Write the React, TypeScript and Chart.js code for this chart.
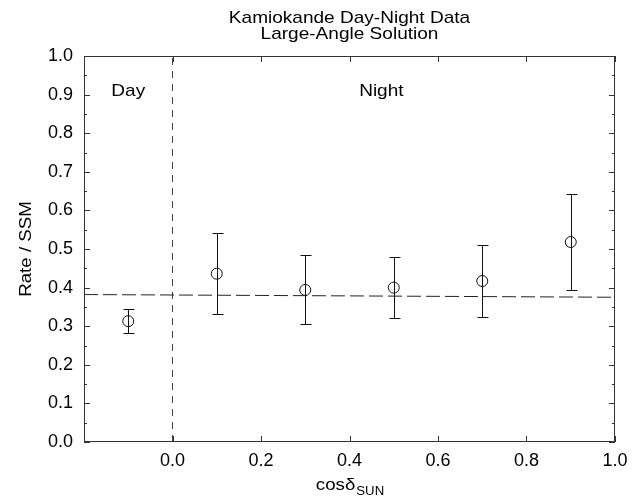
import React, { useEffect, useRef } from "react";
import { Chart, registerables } from "chart.js";

Chart.register(...registerables);

// ---- data ----
const cosSun = [-0.1, 0.1, 0.3, 0.5, 0.7, 0.9];
const rate = [0.313, 0.436, 0.394, 0.4, 0.417, 0.518];
const rateLow = [0.282, 0.332, 0.305, 0.322, 0.324, 0.394];
const rateHigh = [0.344, 0.541, 0.485, 0.478, 0.51, 0.642];

const ssmLineX = [-0.2, 1.0];
const ssmLineY = [0.382, 0.375];

const dividerX = [0, 0];
const dividerY = [0, 1];

const regionLabels = ["Day", "Night"];
const regionLabelX = [-0.1, 0.472];
const regionLabelY = [0.896, 0.896];

const titleLines = ["Kamiokande Day-Night Data", "Large-Angle Solution"];
const yTitle = "Rate / SSM";
const xTitleMain = "cos\u03b4";
const xTitleSub = "SUN";

const FONT = '"Liberation Sans", Arial, Helvetica, sans-serif';
const INK = "#000";

function drawText(
  ctx: CanvasRenderingContext2D,
  text: string,
  x: number,
  y: number,
  size: number,
  sx: number,
  align: CanvasTextAlign,
  rotate = 0
) {
  ctx.save();
  ctx.font = `${size}px ${FONT}`;
  ctx.fillStyle = INK;
  ctx.translate(x, y);
  if (rotate) ctx.rotate(rotate);
  ctx.scale(sx, 1);
  ctx.textAlign = align;
  ctx.textBaseline = "alphabetic";
  ctx.fillText(text, 0, 0);
  ctx.restore();
}

const decorPlugin = {
  id: "decor",
  afterDatasetsDraw(chart: any) {
    const ctx: CanvasRenderingContext2D = chart.ctx;
    const { left, right, top, bottom } = chart.chartArea;
    const xs = chart.scales.x;
    const ys = chart.scales.y;

    ctx.save();
    // frame
    ctx.strokeStyle = "#333";
    ctx.lineWidth = 1;
    ctx.strokeRect(left + 0.5, top + 0.5, right - left - 1, bottom - top - 1);

    // y ticks (major + minor), both sides, inward
    const yt = ys.ticks.map((t: any) => t.value);
    ctx.beginPath();
    for (let i = 0; i < yt.length; i++) {
      const py = Math.round(ys.getPixelForValue(yt[i])) + 0.5;
      ctx.moveTo(left, py);
      ctx.lineTo(left + 6, py);
      ctx.moveTo(right, py);
      ctx.lineTo(right - 6, py);
      if (i < yt.length - 1) {
        const pm = Math.round(ys.getPixelForValue((yt[i] + yt[i + 1]) / 2)) + 0.5;
        ctx.moveTo(left, pm);
        ctx.lineTo(left + 3, pm);
        ctx.moveTo(right, pm);
        ctx.lineTo(right - 3, pm);
      }
    }
    // x ticks top and bottom, inward
    const xt = xs.ticks.map((t: any) => t.value);
    for (let i = 0; i < xt.length; i++) {
      const px = Math.round(xs.getPixelForValue(xt[i])) + 0.5;
      ctx.moveTo(px, bottom);
      ctx.lineTo(px, bottom - 6);
      ctx.moveTo(px, top);
      ctx.lineTo(px, top + 6);
    }
    ctx.stroke();

    // error bars
    ctx.strokeStyle = "#111";
    ctx.beginPath();
    for (let i = 0; i < cosSun.length; i++) {
      const px = Math.round(xs.getPixelForValue(cosSun[i])) + 0.5;
      const pl = Math.round(ys.getPixelForValue(rateLow[i])) + 0.5;
      const ph = Math.round(ys.getPixelForValue(rateHigh[i])) + 0.5;
      ctx.moveTo(px, pl);
      ctx.lineTo(px, ph);
      ctx.moveTo(px - 5, pl);
      ctx.lineTo(px + 6, pl);
      ctx.moveTo(px - 5, ph);
      ctx.lineTo(px + 6, ph);
    }
    ctx.stroke();
    ctx.restore();

    // region labels
    for (let i = 0; i < regionLabels.length; i++) {
      drawText(
        ctx,
        regionLabels[i],
        xs.getPixelForValue(regionLabelX[i]),
        ys.getPixelForValue(regionLabelY[i]),
        17,
        1.12,
        "center"
      );
    }

    // titles
    const cx = (left + right) / 2;
    drawText(ctx, titleLines[0], cx, 23, 17, 1.12, "center");
    drawText(ctx, titleLines[1], cx, 39, 17, 1.12, "center");

    // y title
    drawText(ctx, yTitle, 31, (top + bottom) / 2, 17, 1.1, "center", -Math.PI / 2);

    // x title with subscript
    ctx.save();
    ctx.font = `17px ${FONT}`;
    const wMain = ctx.measureText(xTitleMain).width * 1.1;
    ctx.font = `12px ${FONT}`;
    const wSub = ctx.measureText(xTitleSub).width * 1.1;
    ctx.restore();
    const startX = cx - (wMain + wSub) / 2;
    drawText(ctx, xTitleMain, startX, 490, 17, 1.1, "left");
    drawText(ctx, xTitleSub, startX + wMain + 1, 495, 12, 1.1, "left");
  },
};

function fmt(v: any) {
  const n = Math.round(Number(v) * 10) / 10;
  return (n === 0 ? 0 : n).toFixed(1);
}

export default function App() {
  const ref = useRef<HTMLCanvasElement | null>(null);

  useEffect(() => {
    if (!ref.current) return;
    const chart = new Chart(ref.current, {
      type: "scatter",
      data: {
        datasets: [
          {
            label: "SSM level",
            data: ssmLineX.map((x, i) => ({ x, y: ssmLineY[i] })),
            showLine: true,
            borderColor: "#222",
            borderWidth: 1,
            borderDash: [14, 5],
            pointRadius: 0,
          } as any,
          {
            label: "Day/Night",
            data: dividerX.map((x, i) => ({ x, y: dividerY[i] })),
            showLine: true,
            borderColor: "#444",
            borderWidth: 1,
            borderDash: [7, 6],
            pointRadius: 0,
          } as any,
          {
            label: "Kamiokande",
            data: cosSun.map((x, i) => ({ x, y: rate[i] })),
            pointRadius: 5.5,
            pointBorderWidth: 1,
            borderColor: "#111",
            backgroundColor: "rgba(0,0,0,0)",
          },
        ],
      },
      options: {
        responsive: false,
        animation: false,
        layout: { padding: { left: 0, right: 24, top: 56, bottom: 0 } },
        plugins: {
          legend: { display: false },
          tooltip: { enabled: false },
          title: { display: false },
        },
        scales: {
          x: {
            type: "linear",
            min: -0.2,
            max: 1.0,
            grid: { display: false, drawTicks: false },
            border: { display: false },
            ticks: {
              stepSize: 0.2,
              padding: 8,
              color: INK,
              font: { family: FONT, size: 18 },
              callback: (v: any) => (Number(v) < -0.1 ? "" : fmt(v)),
              maxRotation: 0,
              autoSkip: false,
            },
            afterFit: (s: any) => {
              s.height = 57;
            },
          },
          y: {
            type: "linear",
            min: 0,
            max: 1.0,
            grid: { display: false, drawTicks: false },
            border: { display: false },
            ticks: {
              stepSize: 0.1,
              padding: 11,
              color: INK,
              font: { family: FONT, size: 18 },
              callback: (v: any) => fmt(v),
            },
            afterFit: (s: any) => {
              s.width = 84;
            },
          },
        },
      },
      plugins: [decorPlugin],
    });
    return () => chart.destroy();
  }, []);

  return (
    <div style={{ position: "absolute", left: 0, top: 0, width: 639, height: 499, background: "#fff" }}>
      <canvas ref={ref} width={639} height={499} style={{ display: "block" }} />
    </div>
  );
}
